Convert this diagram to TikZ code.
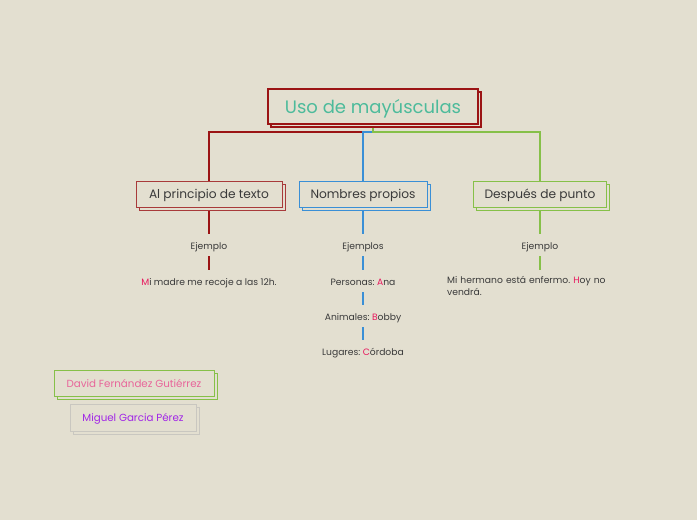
\documentclass[tikz,border=0pt]{standalone}
\usepackage{fontspec}
\setmainfont{Poppins}
\usetikzlibrary{shadows,backgrounds}
\definecolor{bgc}{HTML}{E3DFD0}
\definecolor{mainred}{HTML}{9B1414}
\definecolor{childred}{HTML}{A83A3A}
\definecolor{tealt}{HTML}{4DBB9B}
\definecolor{bluec}{HTML}{3A8FD6}
\definecolor{greenc}{HTML}{86C048}
\definecolor{hilite}{HTML}{E8175D}
\definecolor{txt}{HTML}{3A3A3A}
\definecolor{pinkt}{HTML}{E8659A}
\definecolor{purplet}{HTML}{A126E6}
\definecolor{grayb}{HTML}{C9C7C0}
\newcommand{\hl}[1]{\textcolor{hilite}{#1}}
\frenchspacing
\begin{document}
\begin{tikzpicture}[x=1pt,y=-1pt,
  boxbase/.style={rectangle, fill=bgc, inner sep=0pt,
    copy shadow={shadow xshift=3pt, shadow yshift=-3pt}},
  mainbox/.style={boxbase, draw=mainred, line width=1.2pt, minimum width=210pt, minimum height=35pt,
    text=tealt, font=\fontsize{18}{22}\selectfont, text height=13pt, text depth=0pt},
  childbox/.style={boxbase, line width=0.9pt, minimum height=26pt, text=txt,
    font=\fontsize{12.2}{15}\selectfont, text height=9.4pt, text depth=0pt},
  smalltxt/.style={inner sep=0pt, minimum height=22pt, text=txt,
    font=\fontsize{9.2}{12}\selectfont, text height=8pt, text depth=0pt},
  authbox/.style={boxbase, line width=0.9pt, font=\fontsize{10.3}{13}\selectfont, text depth=0pt},
  redline/.style={draw=mainred, line width=2.4pt},
  blueline/.style={draw=bluec, line width=2pt},
  greenline/.style={draw=greenc, line width=2pt}
]
\useasboundingbox (0,0) rectangle (697,520);

\node[mainbox] (main) at (373,106.5) {Uso de mayúsculas};
\coordinate (hub) at (373,132);

\node[childbox, draw=childred, minimum width=146pt] (c1) at (209,194) {Al principio de texto};
\node[childbox, draw=bluec, minimum width=128pt] (c2) at (363,194) {Nombres propios};
\node[childbox, draw=greenc, minimum width=133pt] (c3) at (540,194) {Después de punto};

\node[smalltxt] (e1) at (209,245) {Ejemplo};
\node[smalltxt] (t1) at (209,281) {\hl{M}i madre me recoje a las 12h.};

\node[smalltxt] (e2) at (363,245) {Ejemplos};
\node[smalltxt] (p1) at (363,281) {Personas: \hl{A}na};
\node[smalltxt] (p2) at (363,316) {Animales: \hl{B}obby};
\node[smalltxt] (p3) at (363,351) {Lugares: \hl{C}órdoba};

\node[smalltxt] (e3) at (540,245) {Ejemplo};
\node[inner xsep=0pt, inner ysep=6.5pt, anchor=north west, text width=165pt, align=left,
  text=txt, font=\fontsize{9.2}{11.5}\selectfont] (t3) at (447,270) {Mi hermano está enfermo. \hl{H}oy no vendrá.};

\node[authbox, draw=greenc, minimum width=160pt, minimum height=26pt,
  text=pinkt, text height=9.4pt] (a1) at (134,383) {David Fernández Gutiérrez};
\node[authbox, draw=grayb, minimum width=126pt, minimum height=27pt,
  text=purplet, text height=8.4pt] (a2) at (133,417.5) {Miguel Garcia Pérez};

\begin{pgfonlayer}{background}
\fill[bgc] (0,0) rectangle (697,520);
\draw[redline] (main.south) -- (hub) -| (c1.north);
\draw[blueline] (hub) -| (c2.north);
\draw[greenline] (main.south) -- (hub) -| (c3.north);
\draw[redline] (c1.south) -- (e1.north);
\draw[redline] (e1.south) -- (t1.north);
\draw[blueline] (c2.south) -- (e2.north);
\draw[blueline] (e2.south) -- (p1.north);
\draw[blueline] (p1.south) -- (p2.north);
\draw[blueline] (p2.south) -- (p3.north);
\draw[greenline] (c3.south) -- (e3.north);
\draw[greenline] (e3.south) -- (e3.south |- t3.north);
\end{pgfonlayer}
\end{tikzpicture}
\end{document}
